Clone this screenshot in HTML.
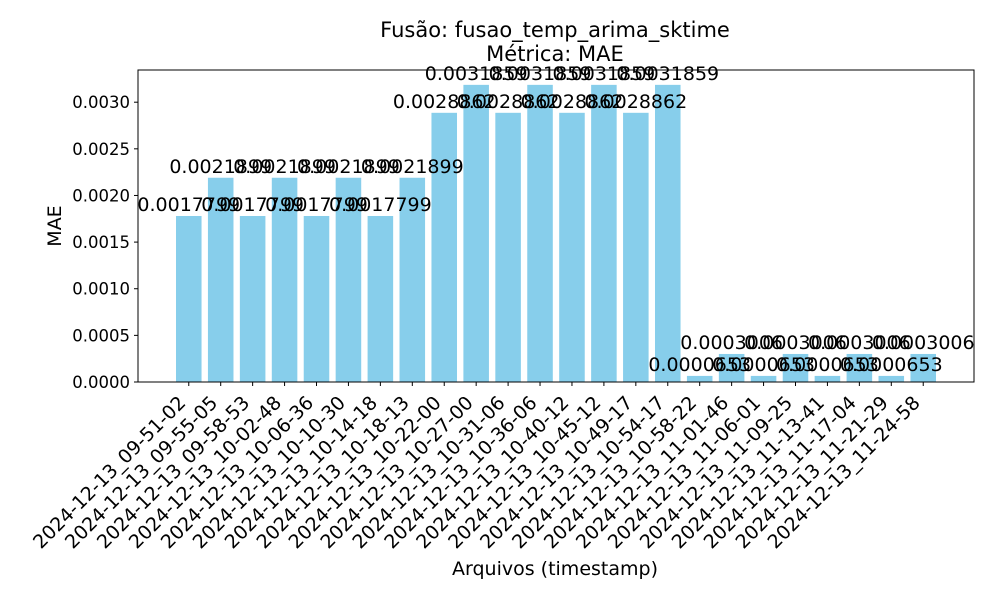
<!DOCTYPE html>
<html><head><meta charset="utf-8"><style>
body{margin:0;background:#fff;}
svg{display:block;font-family:"DejaVu Sans","Liberation Sans",sans-serif;}
</style></head><body>
<svg id="chart" width="1000" height="600">
<text x="555" y="37" font-size="21" text-anchor="middle">Fusão: fusao_temp_arima_sktime</text>
<text x="555" y="61" font-size="21" text-anchor="middle">Métrica: MAE</text>
<text x="555" y="575" font-size="19" text-anchor="middle">Arquivos (timestamp)</text>
<text transform="translate(61,226) rotate(-90)" font-size="19" text-anchor="middle">MAE</text>
<g id="bars"></g><g id="vals"></g><g id="xt"></g><g id="yt"></g>
<rect x="138" y="70" width="836" height="312" fill="none" stroke="#000" stroke-width="1"/>
</svg>
<script>
const categories=["2024-12-13_09-51-02","2024-12-13_09-55-05","2024-12-13_09-58-53","2024-12-13_10-02-48","2024-12-13_10-06-36","2024-12-13_10-10-30","2024-12-13_10-14-18","2024-12-13_10-18-13","2024-12-13_10-22-00","2024-12-13_10-27-00","2024-12-13_10-31-06","2024-12-13_10-36-06","2024-12-13_10-40-12","2024-12-13_10-45-12","2024-12-13_10-49-17","2024-12-13_10-54-17","2024-12-13_10-58-22","2024-12-13_11-01-46","2024-12-13_11-06-01","2024-12-13_11-09-25","2024-12-13_11-13-41","2024-12-13_11-17-04","2024-12-13_11-21-29","2024-12-13_11-24-58"];
const values=[0.0017799,0.0021899,0.0017799,0.0021899,0.0017799,0.0021899,0.0017799,0.0021899,0.0028862,0.0031859,0.0028862,0.0031859,0.0028862,0.0031859,0.0028862,0.0031859,0.0000653,0.0003006,0.0000653,0.0003006,0.0000653,0.0003006,0.0000653,0.0003006];
const valueLabels=["0.0017799","0.0021899","0.0017799","0.0021899","0.0017799","0.0021899","0.0017799","0.0021899","0.0028862","0.0031859","0.0028862","0.0031859","0.0028862","0.0031859","0.0028862","0.0031859","0.0000653","0.0003006","0.0000653","0.0003006","0.0000653","0.0003006","0.0000653","0.0003006"];
const yTicks=[0,0.0005,0.001,0.0015,0.002,0.0025,0.003];
const yTickLabels=["0.0000","0.0005","0.0010","0.0015","0.0020","0.0025","0.0030"];
const NS="http://www.w3.org/2000/svg";
const L=138,R=974,T=70,B=382;
const n=categories.length;
const vmax=Math.max(...values);
const ymax=vmax*1.05;
const x0=-0.4-0.05*(n-1+0.8),x1=n-1+0.4+0.05*(n-1+0.8);
const sx=i=>L+(i-x0)/(x1-x0)*(R-L);
const sy=v=>B-v/ymax*(B-T);
const unit=(R-L)/(x1-x0);
function mk(tag,attrs,parent){const e=document.createElementNS(NS,tag);for(const k in attrs)e.setAttribute(k,attrs[k]);document.getElementById(parent).appendChild(e);return e;}
values.forEach((v,i)=>{
 const r=mk('rect',{x:sx(i)-0.4*unit,y:sy(v),width:0.8*unit,height:B-sy(v),fill:'#87ceeb'},'bars');
 
 
 const t=mk('text',{x:sx(i),y:sy(v)-5,'font-size':19,'text-anchor':'middle'},'vals');
 t.textContent=valueLabels[i];
 
 
 const tk=mk('line',{x1:sx(i),x2:sx(i),y1:B,y2:B+4,stroke:'#000'},'xt');
 
 
 const xl=mk('text',{transform:`translate(${sx(i)-2},${B+22}) rotate(-45)`,'font-size':19,'text-anchor':'end'},'xt');
 xl.textContent=categories[i];
 
 
});
yTicks.forEach((v,i)=>{
 const tk=mk('line',{x1:L-4,x2:L,y1:sy(v),y2:sy(v),stroke:'#000'},'yt');
 
 
 const t=mk('text',{x:L-8,y:sy(v)+6,'font-size':16.5,'text-anchor':'end'},'yt');
 t.textContent=yTickLabels[i];
 
 
});
</script>
</body></html>
